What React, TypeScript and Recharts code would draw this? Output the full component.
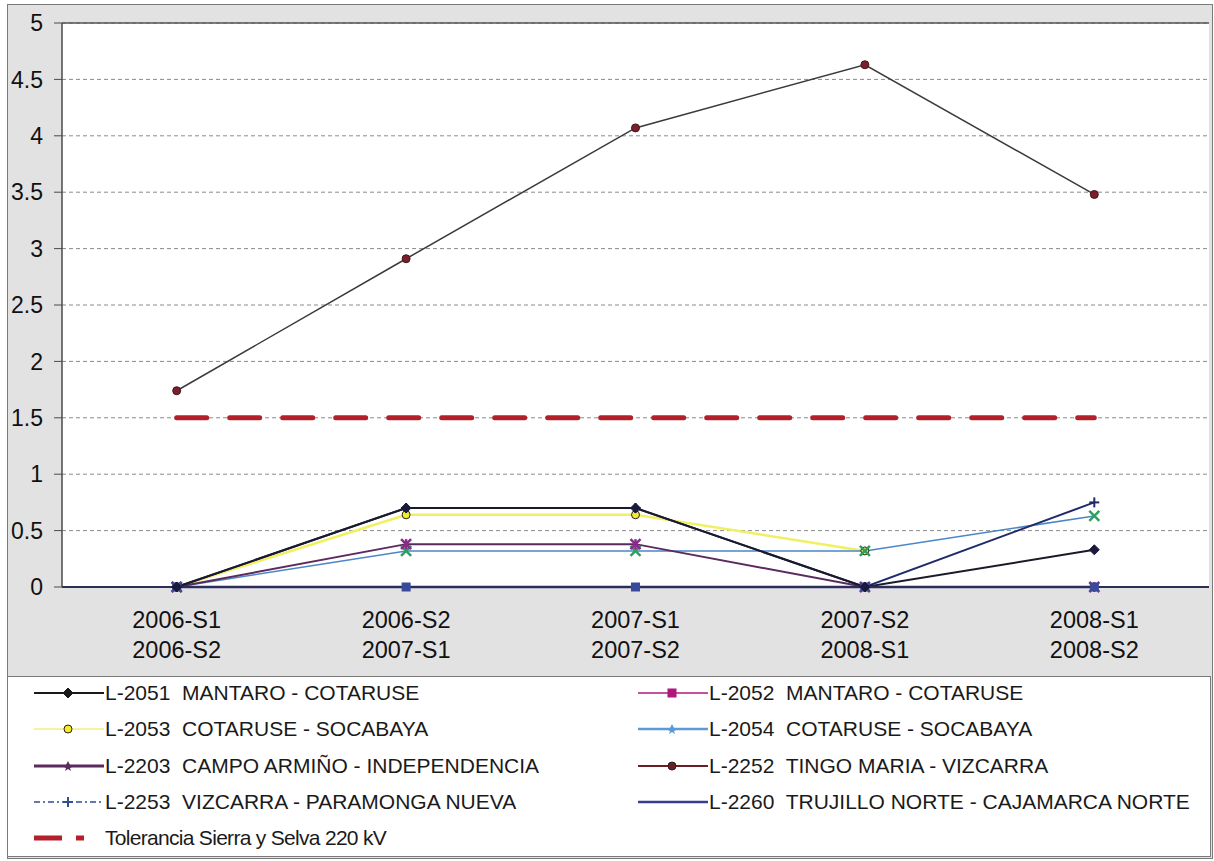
import React from "react"
import { LineChart, Line, XAxis, YAxis, CartesianGrid, ReferenceLine } from "recharts"

// Periods (two-line labels split on "|")
const periods = ["2006-S1|2006-S2", "2006-S2|2007-S1", "2007-S1|2007-S2", "2007-S2|2008-S1", "2008-S1|2008-S2"]

const l2051 = [0, 0.7, 0.7, 0, 0.33]
const l2052 = [0, 0, 0, 0, 0]
const l2053 = [0, 0.64, 0.64, 0.32, null]
const l2054 = [0, 0.32, 0.32, 0.32, 0.63]
const l2203 = [0, 0.38, 0.38, 0, 0]
const l2252 = [1.74, 2.91, 4.07, 4.63, 3.48]
const l2253 = [0, 0.7, 0.7, 0, 0.75]
const l2260 = [0, 0, 0, 0, 0]
const tolerance = [1.5, 1.5, 1.5, 1.5, 1.5]

const yTicks = [0, 0.5, 1, 1.5, 2, 2.5, 3, 3.5, 4, 4.5, 5]

const data = periods.map((p, i) => ({
  period: p,
  l2051: l2051[i],
  l2052: l2052[i],
  l2053: l2053[i],
  l2054: l2054[i],
  l2203: l2203[i],
  l2252: l2252[i],
  l2253: l2253[i],
  l2260: l2260[i],
  tol: tolerance[i],
}))

const FONT = "'Liberation Sans', Arial, sans-serif"

type Marker = "diamond" | "square" | "circle" | "star" | "x" | "plus" | "asterisk" | "none"

function markerShape(kind: Marker, cx: number, cy: number, color: string, size = 5) {
  const s = size
  switch (kind) {
    case "diamond":
      return <polygon points={`${cx},${cy - s} ${cx + s},${cy} ${cx},${cy + s} ${cx - s},${cy}`} fill={color} stroke={color} />
    case "square":
      return <rect x={cx - s + 1} y={cy - s + 1} width={2 * s - 2} height={2 * s - 2} fill={color} stroke={color} />
    case "circle":
      return <circle cx={cx} cy={cy} r={s - 1} fill={color} stroke="#3a1a1a" strokeWidth={1} />
    case "x":
      return (
        <g stroke={color} strokeWidth={2.5}>
          <line x1={cx - s} y1={cy - s} x2={cx + s} y2={cy + s} />
          <line x1={cx - s} y1={cy + s} x2={cx + s} y2={cy - s} />
        </g>
      )
    case "plus":
      return (
        <g stroke={color} strokeWidth={2}>
          <line x1={cx - s} y1={cy} x2={cx + s} y2={cy} />
          <line x1={cx} y1={cy - s} x2={cx} y2={cy + s} />
        </g>
      )
    case "asterisk":
      return (
        <g stroke={color} strokeWidth={2.5}>
          <line x1={cx - s} y1={cy - s} x2={cx + s} y2={cy + s} />
          <line x1={cx - s} y1={cy + s} x2={cx + s} y2={cy - s} />
          <line x1={cx} y1={cy - s} x2={cx} y2={cy + s} />
        </g>
      )
    case "star":
      return <polygon points={`${cx},${cy - s} ${cx + 2},${cy - 1} ${cx + s + 1},${cy} ${cx + 2},${cy + 2} ${cx + 3},${cy + s} ${cx},${cy + 3} ${cx - 3},${cy + s} ${cx - 2},${cy + 2} ${cx - s - 1},${cy} ${cx - 2},${cy - 1}`} fill={color} />
    default:
      return null
  }
}

function dotFn(kind: Marker, color: string, size?: number) {
  return (props: any) => {
    const { cx, cy, index } = props
    if (cx == null || cy == null || props.value == null) return <g key={`e${index}`} />
    return <g key={`d${index}`}>{markerShape(kind, cx, cy, color, size)}</g>
  }
}

interface SeriesDef {
  key: string
  label: string
  color: string
  width: number
  marker: Marker
  markerColor: string
  dash?: string
}

const series: SeriesDef[] = [
  { key: "l2053", label: "L-2053  COTARUSE - SOCABAYA", color: "#f0f060", width: 2.5, marker: "circle", markerColor: "#eeee30" },
  { key: "l2054", label: "L-2054  COTARUSE - SOCABAYA", color: "#4a86c8", width: 1.5, marker: "x", markerColor: "#2f9e62" },
  { key: "l2203", label: "L-2203  CAMPO ARMIÑO - INDEPENDENCIA", color: "#5b2a5e", width: 2, marker: "asterisk", markerColor: "#8a2a8a" },
  { key: "l2052", label: "L-2052  MANTARO - COTARUSE", color: "#b0177d", width: 1.5, marker: "square", markerColor: "#3a4a9a" },
  { key: "l2253", label: "L-2253  VIZCARRA - PARAMONGA NUEVA", color: "#1f2a6a", width: 2, marker: "plus", markerColor: "#1f2a6a" },
  { key: "l2051", label: "L-2051  MANTARO - COTARUSE", color: "#1a1a2a", width: 2, marker: "diamond", markerColor: "#1a1a3a" },
  { key: "l2260", label: "L-2260  TRUJILLO NORTE - CAJAMARCA NORTE", color: "#2b2f7a", width: 2.5, marker: "none", markerColor: "#2b2f7a" },
  { key: "l2252", label: "L-2252  TINGO MARIA - VIZCARRA", color: "#3a3a3a", width: 1.5, marker: "circle", markerColor: "#7b1f2f" },
]

// Legend order as in the reference (left column, right column)
const legendLeft = ["l2051", "l2053", "l2203", "l2253"]
const legendRight = ["l2052", "l2054", "l2252", "l2260"]
const legendIcon: Record<string, { color: string; marker: Marker; markerColor: string; dash?: string; width: number }> = {
  l2051: { color: "#1a1a1a", marker: "diamond", markerColor: "#1a1a1a", width: 2 },
  l2052: { color: "#b0177d", marker: "square", markerColor: "#b0177d", width: 1.5 },
  l2053: { color: "#f4f4a0", marker: "circle", markerColor: "#f0f020", width: 2 },
  l2054: { color: "#5b9bd5", marker: "star", markerColor: "#5b9bd5", width: 2.5 },
  l2203: { color: "#5b2a5e", marker: "star", markerColor: "#5b2a5e", width: 3 },
  l2252: { color: "#6b1f25", marker: "circle", markerColor: "#6b1f25", width: 2 },
  l2253: { color: "#2f4f8f", marker: "plus", markerColor: "#2f4f8f", width: 1.5, dash: "6 3 2 3" },
  l2260: { color: "#3b3b8f", marker: "none", markerColor: "#3b3b8f", width: 2.5 },
}

function XTick(props: any) {
  const { x, y, payload } = props
  const [a, b] = String(payload.value).split("|")
  return (
    <text x={x} textAnchor="middle" fontSize={23.5} fill="#111" fontFamily={FONT}>
      <tspan x={x} y={y + 41}>{a}</tspan>
      <tspan x={x} y={y + 71}>{b}</tspan>
    </text>
  )
}

function LegendRow({ k }: { k: string }) {
  const ic = legendIcon[k]
  const s = series.find((d) => d.key === k)!
  return (
    <div style={{ display: "flex", alignItems: "center", height: 36.3 }}>
      <svg width={70} height={20} style={{ flexShrink: 0 }}>
        <line x1={0} y1={10} x2={70} y2={10} stroke={ic.color} strokeWidth={ic.width} strokeDasharray={ic.dash} />
        {markerShape(ic.marker, 34, 10, ic.markerColor, 5)}
      </svg>
      <span style={{ whiteSpace: "pre", fontSize: 21, color: "#1a1a1a", marginLeft: 1 }}>{s.label}</span>
    </div>
  )
}

export default function App() {
  return (
    <div style={{ position: "absolute", left: 0, top: 0, width: 1214, height: 861, background: "#fff", fontFamily: FONT }}>
      <div style={{ position: "absolute", left: 7, top: 4, width: 1204, height: 853, border: "1px solid #7a7a7a", background: "#e2e2e2" }} />
      <div style={{ position: "absolute", left: 0, top: 0 }}>
        <LineChart width={1214} height={676} data={data} margin={{ top: 23, right: 5, left: 0, bottom: 0 }}>
          <CartesianGrid fill="#ffffff" vertical={false} stroke="#8a8a8a" strokeDasharray="4 3" />
          <XAxis
            dataKey="period"
            height={89}
            tickLine={false}
            tickSize={0}
            tickMargin={0}
            padding={{ left: 114.7, right: 114.7 }}
            axisLine={{ stroke: "#2b2f55", strokeWidth: 2 }}
            tick={<XTick />}
            interval={0}
          />
          <YAxis
            domain={[0, 5]}
            ticks={yTicks}
            width={62}
            tickSize={8}
            tickMargin={11}
            axisLine={{ stroke: "#4a4a4a", strokeWidth: 1.5 }}
            tickLine={{ stroke: "#4a4a4a" }}
            tick={{ fontSize: 23, fill: "#111", fontFamily: FONT }}
          />
          <YAxis
            yAxisId="frame"
            orientation="right"
            domain={[0, 5]}
            width={0}
            tick={false}
            tickLine={false}
            axisLine={{ stroke: "#555", strokeWidth: 1.5 }}
          />
          <ReferenceLine y={5} stroke="#555" strokeWidth={1.5} />
          {series.map((s) => (
            <Line
              key={s.key}
              dataKey={s.key}
              type="linear"
              stroke={s.color}
              strokeWidth={s.width}
              strokeDasharray={s.dash}
              dot={s.marker === "none" ? false : dotFn(s.marker, s.markerColor, 5)}
              activeDot={false}
              isAnimationActive={false}
              connectNulls={false}
            />
          ))}
          <Line
            dataKey="tol"
            type="linear"
            stroke="#b3202a"
            strokeWidth={5}
            strokeDasharray="30 23"
            strokeLinecap="round"
            dot={false}
            activeDot={false}
            isAnimationActive={false}
          />
        </LineChart>
      </div>
      {/* Legend box */}
      <div style={{ position: "absolute", left: 7, top: 676, width: 1204, height: 181, background: "#fff", border: "1px solid #7a7a7a", boxSizing: "border-box" }} />
      <div style={{ position: "absolute", left: 34, top: 675 }}>
        {legendLeft.map((k) => <LegendRow key={k} k={k} />)}
        <div style={{ display: "flex", alignItems: "center", height: 36.3 }}>
          <svg width={70} height={20} style={{ flexShrink: 0 }}>
            <line x1={0} y1={10} x2={28} y2={10} stroke="#b3202a" strokeWidth={5} />
            <line x1={42} y1={10} x2={50} y2={10} stroke="#b3202a" strokeWidth={5} />
          </svg>
          <span style={{ fontSize: 21, color: "#1a1a1a", letterSpacing: -0.7, marginLeft: 1 }}>Tolerancia Sierra y Selva 220 kV</span>
        </div>
      </div>
      <div style={{ position: "absolute", left: 638, top: 675 }}>
        {legendRight.map((k) => <LegendRow key={k} k={k} />)}
      </div>
    </div>
  )
}
